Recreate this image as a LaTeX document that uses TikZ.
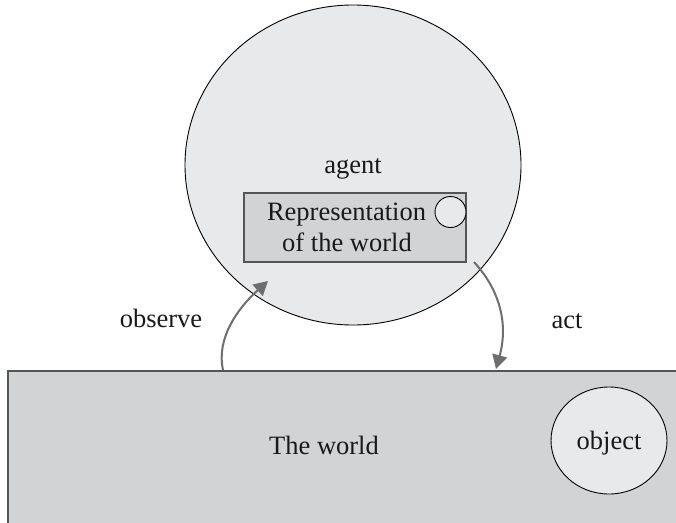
\documentclass[tikz,border=0pt]{standalone}
\usepackage{fontspec}
\setmainfont{Liberation Serif}
\usetikzlibrary{arrows.meta,shapes.geometric}
\definecolor{lightfill}{HTML}{E8E9EA}
\definecolor{midfill}{HTML}{D2D3D5}
\definecolor{edgegray}{HTML}{555555}
\definecolor{arrowgray}{HTML}{6E6E6E}
\begin{document}
\begin{tikzpicture}[x=1pt,y=-1pt,
  lbl/.style={font=\fontsize{26.5}{31}\selectfont, inner sep=0pt, anchor=base, text=black!90},
  softshape/.style={draw=black, line width=0.9pt, fill=lightfill, inner sep=0pt},
  boxshape/.style={draw=edgegray, line width=1.5pt, fill=midfill, inner sep=0pt},
  flow/.style={draw=arrowgray, line width=2pt, -{Triangle[length=14pt,width=15pt]}}]
\useasboundingbox (0,0) rectangle (676,522);
\clip (0,0) rectangle (676,522);

% the world, running off the lower and right edges
\node[boxshape, rectangle, minimum width=700pt, minimum height=180pt, anchor=north west] (world) at (7,370) {};
\node[softshape, ellipse, minimum width=116pt, minimum height=107pt] (object) at (609,440.5) {};
\node[lbl] (worldtxt) at (324,454) {The world};
\node[lbl] (objtxt) at (609,449) {object};

% the agent and its internal representation
\node[softshape, ellipse, minimum width=336pt, minimum height=320pt] (agent) at (353,165) {};
\node[lbl] (agenttxt) at (353,173) {agent};
\node[boxshape, rectangle, minimum width=222pt, minimum height=69pt] (rep) at (355,227.5) {};
\node[softshape, circle, minimum size=31pt] (mini) at (450.5,212) {};
\node[lbl] (reptxt1) at (346.5,220) {Representation};
\node[lbl] (reptxt2) at (347,251) {of the world};

% observe / act loop
\coordinate (obsfrom) at (223,370);
\coordinate (obsto) at (268,281);
\coordinate (actfrom) at (474,262);
\coordinate (actto) at (496,369);
\draw[flow] (obsfrom) .. controls (216,338) and (238,308) .. (obsto);
\draw[flow] (actfrom) .. controls (506,297) and (506,333) .. (actto);
\node[lbl] (obstxt) at (161,327) {observe};
\node[lbl] (acttxt) at (567,328) {act};
\end{tikzpicture}
\end{document}
